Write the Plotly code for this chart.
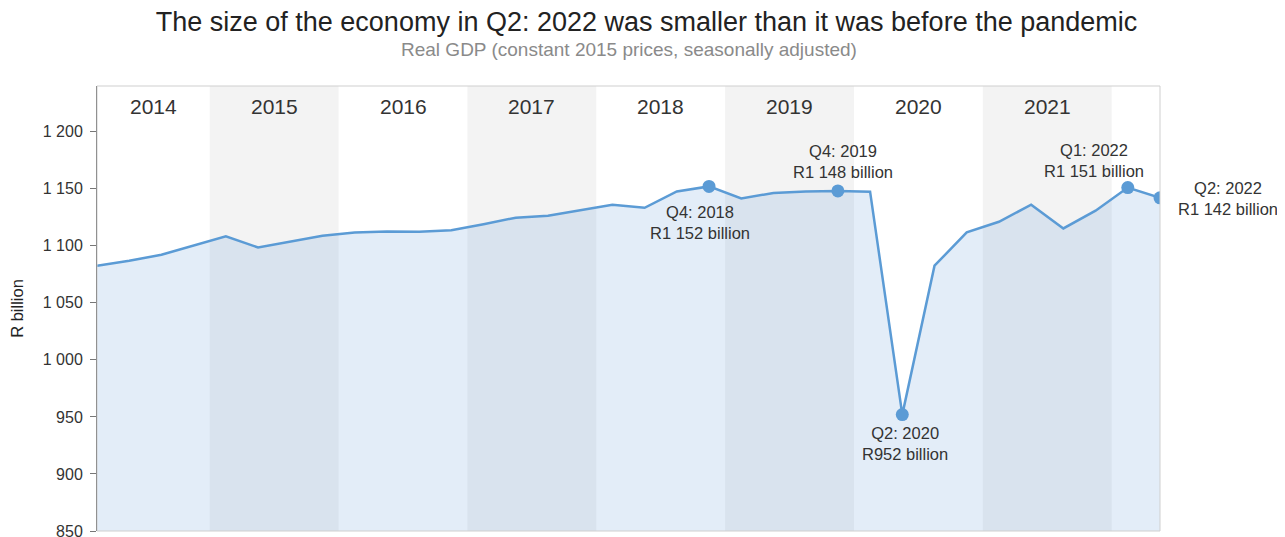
import plotly.graph_objects as go

quarters = [f"Q{q}: {y}" for y in range(2014, 2023) for q in range(1, 5)][:34]
gdp = [1082.5, 1086.8, 1092.1, 1100.0, 1108.2, 1098.5, 1103.5, 1108.8,
       1111.7, 1112.5, 1112.3, 1113.6, 1118.9, 1124.6, 1126.3, 1131.1,
       1136.0, 1133.3, 1147.6, 1152.0, 1141.5, 1146.2, 1147.6, 1148.0,
       1147.4, 952.0, 1082.5, 1111.7, 1121.0, 1136.0, 1115.2, 1130.7,
       1151.0, 1142.0]
years = list(range(2014, 2023))
shaded_years = [2015, 2017, 2019, 2021]
labelled_years = list(range(2014, 2022))

highlight_idx = [19, 23, 25, 32, 33]
highlight_text = ["Q4: 2018<br>R1 152 billion", "Q4: 2019<br>R1 148 billion",
                  "Q2: 2020<br>R952 billion", "Q1: 2022<br>R1 151 billion",
                  "Q2: 2022<br>R1 142 billion"]
# annotation placement (pixel offsets: dx right, dy down)
ann_offsets = [(-9, 36), (5, -29), (3, 29), (-34, -27), (68, 1)]

x = list(range(len(gdp)))
XMIN, XMAX = 0, len(gdp) - 1
YMIN, YMAX = 850, 1240

W, H = 1277, 529
ML, MR, MT, MB = 89, 125, 78, 6
plot_h = H - MT - MB

fig = go.Figure()

shapes = []
for yr in shaded_years:
    i0 = (yr - 2014) * 4 - 0.5
    shapes.append(dict(type="rect", xref="x", yref="paper", x0=i0, x1=i0 + 4,
                       y0=0, y1=1, fillcolor="#f3f3f3", line_width=0, layer="below"))
shapes.append(dict(type="rect", xref="paper", yref="paper", x0=0, x1=1, y0=0, y1=1,
                   line=dict(color="#cfcfcf", width=1), fillcolor="rgba(0,0,0,0)", layer="above"))

fig.add_trace(go.Scatter(x=x, y=gdp, mode="lines", fill="tozeroy",
                         fillcolor="rgba(91,146,213,0.17)",
                         line=dict(color="#5b9bd5", width=2.5), hoverinfo="skip",
                         showlegend=False))
fig.add_trace(go.Scatter(x=[x[i] for i in highlight_idx], y=[gdp[i] for i in highlight_idx],
                         mode="markers", marker=dict(color="#5b9bd5", size=13),
                         showlegend=False))

annotations = []
for yr in labelled_years:
    i0 = max((yr - 2014) * 4 - 0.5, XMIN)
    i1 = min((yr - 2014) * 4 + 3.5, XMAX)
    annotations.append(dict(x=(i0 + i1) / 2, y=YMAX - 6, xref="x", yref="y",
                            text=str(yr), showarrow=False, yanchor="top",
                            font=dict(size=21, color="#333333")))
for i, t, (dx, dy) in zip(highlight_idx, highlight_text, ann_offsets):
    annotations.append(dict(x=x[i], y=gdp[i], xref="x", yref="y", text=t,
                            showarrow=False, xshift=dx, yshift=-dy,
                            font=dict(size=16.5, color="#333333")))
# subtitle
annotations.append(dict(x=0.5, xref="paper", xanchor="center",
                        y=(H - MB - 42) / plot_h, yref="paper", yanchor="middle",
                        text="Real GDP (constant 2015 prices, seasonally adjusted)",
                        showarrow=False, font=dict(size=19, color="#8a8a8a")))

fig.update_layout(
    width=W, height=H,
    margin=dict(l=ML, r=MR, t=MT, b=MB, autoexpand=False),
    paper_bgcolor="white", plot_bgcolor="white",
    font=dict(family="Liberation Sans, Arial, sans-serif", color="#333333"),
    separators=". ",
    title=dict(text="The size of the economy in Q2: 2022 was smaller than it was before the pandemic",
               x=0.5, xanchor="center", xref="container", yref="container",
               y=1 - 14 / H, yanchor="middle",
               font=dict(size=27, color="#222222")),
    shapes=shapes, annotations=annotations,
    xaxis=dict(range=[XMIN, XMAX], showticklabels=False, showgrid=False, zeroline=False,
               ticks="", automargin=False),
    yaxis=dict(range=[YMIN, YMAX], tickvals=[850, 900, 950, 1000, 1050, 1100, 1150, 1200],
               tickformat=",d", showgrid=False, zeroline=False, showline=True,
               linecolor="#555555", linewidth=1, ticks="outside", ticklen=6,
               tickcolor="#777777", tickfont=dict(size=16, color="#333333"),
               ticklabelstandoff=4, ticklabeloverflow="allow", automargin=False,
               title=dict(text="R billion", font=dict(size=16.5, color="#222222"), standoff=14)),
)

fig.write_html("out.html")
